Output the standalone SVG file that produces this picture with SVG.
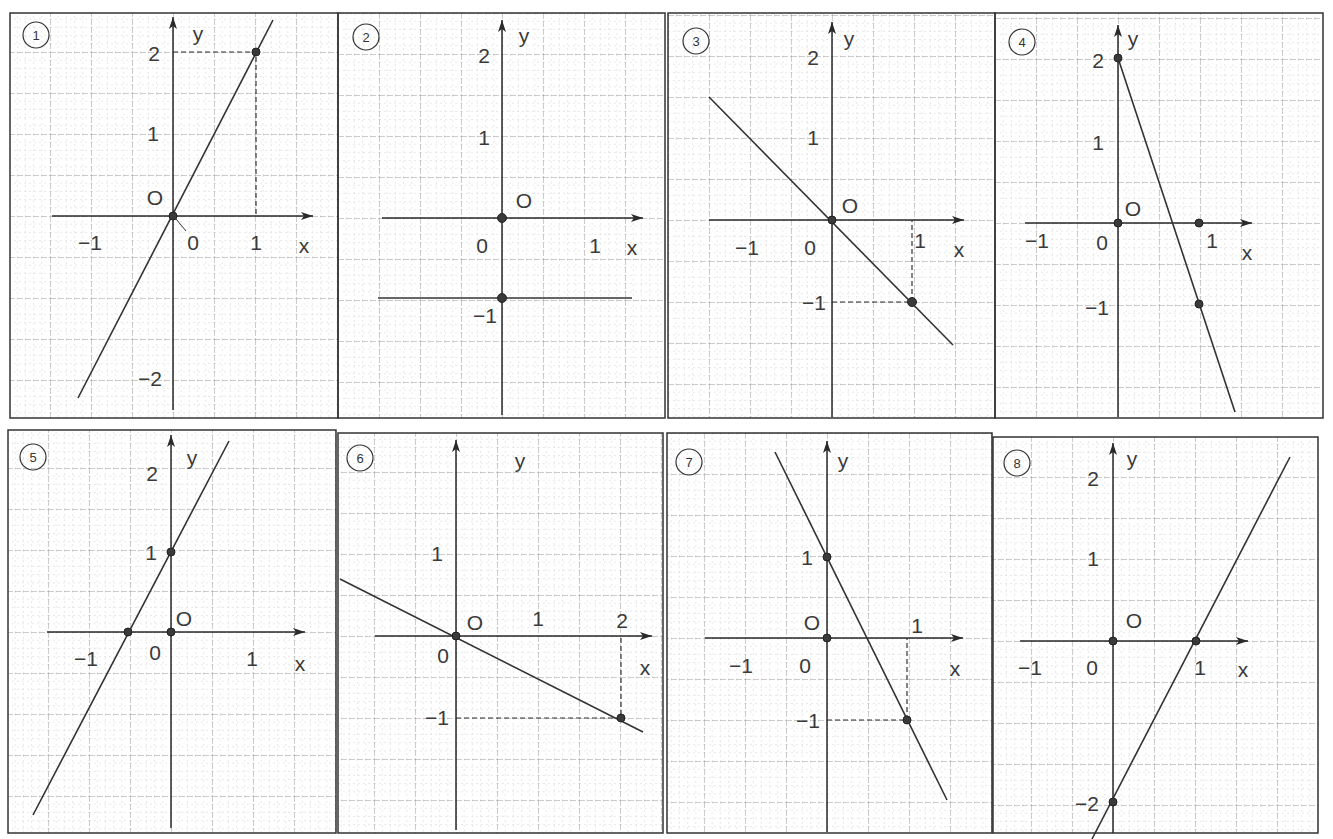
<svg xmlns="http://www.w3.org/2000/svg" width="1333" height="839" viewBox="0 0 1333 839">
<style>
.bg{fill:#ffffff}
.frame{fill:none;stroke:#333;stroke-width:1.5}
.axis{stroke:#2a2a2a;stroke-width:1.5;fill:none;marker-end:url(#arr)}
.fn{stroke:#333;stroke-width:1.6;fill:none}
.guide{stroke:#333;stroke-width:1.2;stroke-dasharray:5 3;fill:none}
.dot{fill:#3a3a3a;stroke:#222;stroke-width:1}
.lbl{font-family:"Liberation Sans",Arial,sans-serif;font-size:21px;fill:#3a3a3a;text-anchor:middle;dominant-baseline:central}
.ring{fill:none;stroke:#333;stroke-width:1.2}
.num{font-family:"Liberation Sans",Arial,sans-serif;font-size:13px;fill:#333;text-anchor:middle;dominant-baseline:central}
</style>
<defs>
<marker id="arr" viewBox="0 0 12 8" refX="12" refY="4" markerWidth="12" markerHeight="8" markerUnits="userSpaceOnUse" orient="auto">
<path d="M0,0 L12,4 L0,8 L3,4 z" fill="#2a2a2a"/>
</marker>
<pattern id="grid" patternUnits="userSpaceOnUse" x="0" y="0" width="41" height="41">
<path d="M8.2,0V41M16.4,0V41M24.6,0V41M32.8,0V41M0,8.2H41M0,16.4H41M0,24.6H41M0,32.8H41" stroke="#d8d8d8" stroke-width="0.6" stroke-dasharray="2 3" fill="none"/>
<path d="M0,0H41M0,0V41" stroke="#8e8e8e" stroke-width="0.9" stroke-dasharray="6 2" fill="none"/>
</pattern>
</defs>
<rect class="bg" x="0" y="0" width="1333" height="839"/>

<g id="panel1">
<rect x="-163" y="-203" width="328" height="405" fill="url(#grid)" transform="translate(173,216)"/>
<rect class="frame" x="10" y="13" width="328" height="405"/>
<circle class="ring" cx="36" cy="35" r="13"/><text class="num" x="36" y="35">1</text>
<line class="axis" x1="173" y1="410" x2="173" y2="17"/>
<line class="axis" x1="52" y1="216" x2="313" y2="216"/>
<polyline class="guide" points="173,52 256,52 256,216"/>
<line class="fn" x1="78" y1="398" x2="273" y2="20"/>
<line stroke="#333" stroke-width="1" x1="176" y1="219" x2="186" y2="231"/>
<circle class="dot" cx="173" cy="216" r="4"/>
<circle class="dot" cx="256" cy="52" r="4"/>
<text class="lbl" x="198" y="33">y</text>
<text class="lbl" x="154" y="53">2</text>
<text class="lbl" x="153" y="133">1</text>
<text class="lbl" x="155" y="197">O</text>
<text class="lbl" x="193" y="242">0</text>
<text class="lbl" x="90" y="242">−1</text>
<text class="lbl" x="256" y="242">1</text>
<text class="lbl" x="304" y="245">x</text>
<text class="lbl" x="150" y="378">−2</text>
</g>

<g id="panel2">
<rect x="-164" y="-205" width="327" height="405" fill="url(#grid)" transform="translate(502,218)"/>
<rect class="frame" x="338" y="13" width="327" height="405"/>
<circle class="ring" cx="366" cy="37" r="13"/><text class="num" x="366" y="37">2</text>
<line class="axis" x1="502" y1="415" x2="502" y2="20"/>
<line class="axis" x1="382" y1="218" x2="643" y2="218"/>
<line class="fn" x1="378" y1="298" x2="632" y2="298"/>
<circle class="dot" cx="502" cy="218" r="4.5"/>
<circle class="dot" cx="502" cy="298" r="4.5"/>
<text class="lbl" x="524" y="35">y</text>
<text class="lbl" x="484" y="55">2</text>
<text class="lbl" x="484" y="137">1</text>
<text class="lbl" x="524" y="200">O</text>
<text class="lbl" x="482" y="245">0</text>
<text class="lbl" x="595" y="245">1</text>
<text class="lbl" x="632" y="247">x</text>
<text class="lbl" x="485" y="315">−1</text>
</g>

<g id="panel3">
<rect x="-164" y="-207" width="327" height="405" fill="url(#grid)" transform="translate(832,220)"/>
<rect class="frame" x="668" y="13" width="327" height="405"/>
<circle class="ring" cx="696" cy="41" r="13"/><text class="num" x="696" y="41">3</text>
<line class="axis" x1="832" y1="417" x2="832" y2="22"/>
<line class="axis" x1="709" y1="220" x2="964" y2="220"/>
<polyline class="guide" points="832,302 912,302 912,220"/>
<line class="fn" x1="709" y1="97" x2="953" y2="345"/>
<circle class="dot" cx="832" cy="220" r="4"/>
<circle class="dot" cx="912" cy="302" r="4.5"/>
<text class="lbl" x="849" y="38">y</text>
<text class="lbl" x="813" y="57">2</text>
<text class="lbl" x="813" y="137">1</text>
<text class="lbl" x="850" y="205">O</text>
<text class="lbl" x="747" y="247">−1</text>
<text class="lbl" x="810" y="247">0</text>
<text class="lbl" x="920" y="240">1</text>
<text class="lbl" x="959" y="249">x</text>
<text class="lbl" x="814" y="302">−1</text>
</g>

<g id="panel4">
<rect x="-123" y="-210" width="328" height="405" fill="url(#grid)" transform="translate(1118,223)"/>
<rect class="frame" x="995" y="13" width="328" height="405"/>
<circle class="ring" cx="1022" cy="42" r="13"/><text class="num" x="1022" y="42">4</text>
<line class="axis" x1="1118" y1="417" x2="1118" y2="25"/>
<line class="axis" x1="1025" y1="223" x2="1252" y2="223"/>
<line class="fn" x1="1118" y1="58" x2="1235" y2="412"/>
<circle class="dot" cx="1118" cy="223" r="4"/>
<circle class="dot" cx="1199" cy="223" r="4"/>
<circle class="dot" cx="1118" cy="58" r="4"/>
<circle class="dot" cx="1199" cy="304" r="4"/>
<text class="lbl" x="1133" y="38">y</text>
<text class="lbl" x="1098" y="60">2</text>
<text class="lbl" x="1098" y="142">1</text>
<text class="lbl" x="1133" y="208">O</text>
<text class="lbl" x="1037" y="240">−1</text>
<text class="lbl" x="1102" y="242">0</text>
<text class="lbl" x="1212" y="240">1</text>
<text class="lbl" x="1247" y="252">x</text>
<text class="lbl" x="1097" y="307">−1</text>
</g>

<g id="panel5">
<rect x="-163" y="-202" width="328" height="403" fill="url(#grid)" transform="translate(171,632)"/>
<rect class="frame" x="8" y="430" width="328" height="403"/>
<circle class="ring" cx="33" cy="457" r="13"/><text class="num" x="33" y="457">5</text>
<line class="axis" x1="171" y1="828" x2="171" y2="435"/>
<line class="axis" x1="47" y1="632" x2="305" y2="632"/>
<line class="fn" x1="33" y1="815" x2="229" y2="441"/>
<circle class="dot" cx="171" cy="632" r="4"/>
<circle class="dot" cx="128" cy="632" r="4"/>
<circle class="dot" cx="171" cy="552" r="4"/>
<text class="lbl" x="192" y="457">y</text>
<text class="lbl" x="152" y="473">2</text>
<text class="lbl" x="151" y="552">1</text>
<text class="lbl" x="184" y="618">O</text>
<text class="lbl" x="86" y="658">−1</text>
<text class="lbl" x="155" y="652">0</text>
<text class="lbl" x="252" y="658">1</text>
<text class="lbl" x="300" y="663">x</text>
</g>

<g id="panel6">
<rect x="-118" y="-203" width="325" height="400" fill="url(#grid)" transform="translate(456,636)"/>
<rect class="frame" x="338" y="433" width="325" height="400"/>
<circle class="ring" cx="360" cy="458" r="13"/><text class="num" x="360" y="458">6</text>
<line class="axis" x1="456" y1="830" x2="456" y2="440"/>
<line class="axis" x1="375" y1="636" x2="652" y2="636"/>
<polyline class="guide" points="456,718 621,718 621,636"/>
<line class="fn" x1="340" y1="579" x2="643" y2="732"/>
<circle class="dot" cx="456" cy="636" r="4"/>
<circle class="dot" cx="621" cy="718" r="4"/>
<text class="lbl" x="520" y="460">y</text>
<text class="lbl" x="437" y="553">1</text>
<text class="lbl" x="475" y="622">O</text>
<text class="lbl" x="538" y="618">1</text>
<text class="lbl" x="622" y="620">2</text>
<text class="lbl" x="443" y="655">0</text>
<text class="lbl" x="645" y="667">x</text>
<text class="lbl" x="437" y="717">−1</text>
</g>

<g id="panel7">
<rect x="-160" y="-205" width="325" height="400" fill="url(#grid)" transform="translate(827,638)"/>
<rect class="frame" x="667" y="433" width="325" height="400"/>
<circle class="ring" cx="689" cy="462" r="13"/><text class="num" x="689" y="462">7</text>
<line class="axis" x1="827" y1="832" x2="827" y2="441"/>
<line class="axis" x1="705" y1="638" x2="963" y2="638"/>
<polyline class="guide" points="827,720 907,720 907,638"/>
<line class="fn" x1="775" y1="452" x2="947" y2="800"/>
<circle class="dot" cx="827" cy="638" r="4"/>
<circle class="dot" cx="827" cy="557" r="4"/>
<circle class="dot" cx="907" cy="720" r="4"/>
<text class="lbl" x="843" y="460">y</text>
<text class="lbl" x="807" y="557">1</text>
<text class="lbl" x="812" y="622">O</text>
<text class="lbl" x="917" y="625">1</text>
<text class="lbl" x="741" y="665">−1</text>
<text class="lbl" x="805" y="665">0</text>
<text class="lbl" x="955" y="668">x</text>
<text class="lbl" x="808" y="720">−1</text>
</g>

<g id="panel8">
<rect x="-120" y="-204" width="325" height="396" fill="url(#grid)" transform="translate(1113,641)"/>
<rect class="frame" x="993" y="437" width="325" height="396"/>
<circle class="ring" cx="1017" cy="463" r="13"/><text class="num" x="1017" y="463">8</text>
<line class="axis" x1="1113" y1="833" x2="1113" y2="443"/>
<line class="axis" x1="1020" y1="641" x2="1248" y2="641"/>
<line class="fn" x1="1092" y1="839" x2="1290" y2="457"/>
<circle class="dot" cx="1113" cy="641" r="4"/>
<circle class="dot" cx="1196" cy="641" r="4"/>
<circle class="dot" cx="1113" cy="802" r="4"/>
<text class="lbl" x="1132" y="458">y</text>
<text class="lbl" x="1093" y="478">2</text>
<text class="lbl" x="1093" y="558">1</text>
<text class="lbl" x="1134" y="620">O</text>
<text class="lbl" x="1030" y="667">−1</text>
<text class="lbl" x="1092" y="667">0</text>
<text class="lbl" x="1200" y="667">1</text>
<text class="lbl" x="1243" y="669">x</text>
<text class="lbl" x="1087" y="803">−2</text>
</g>
</svg>
